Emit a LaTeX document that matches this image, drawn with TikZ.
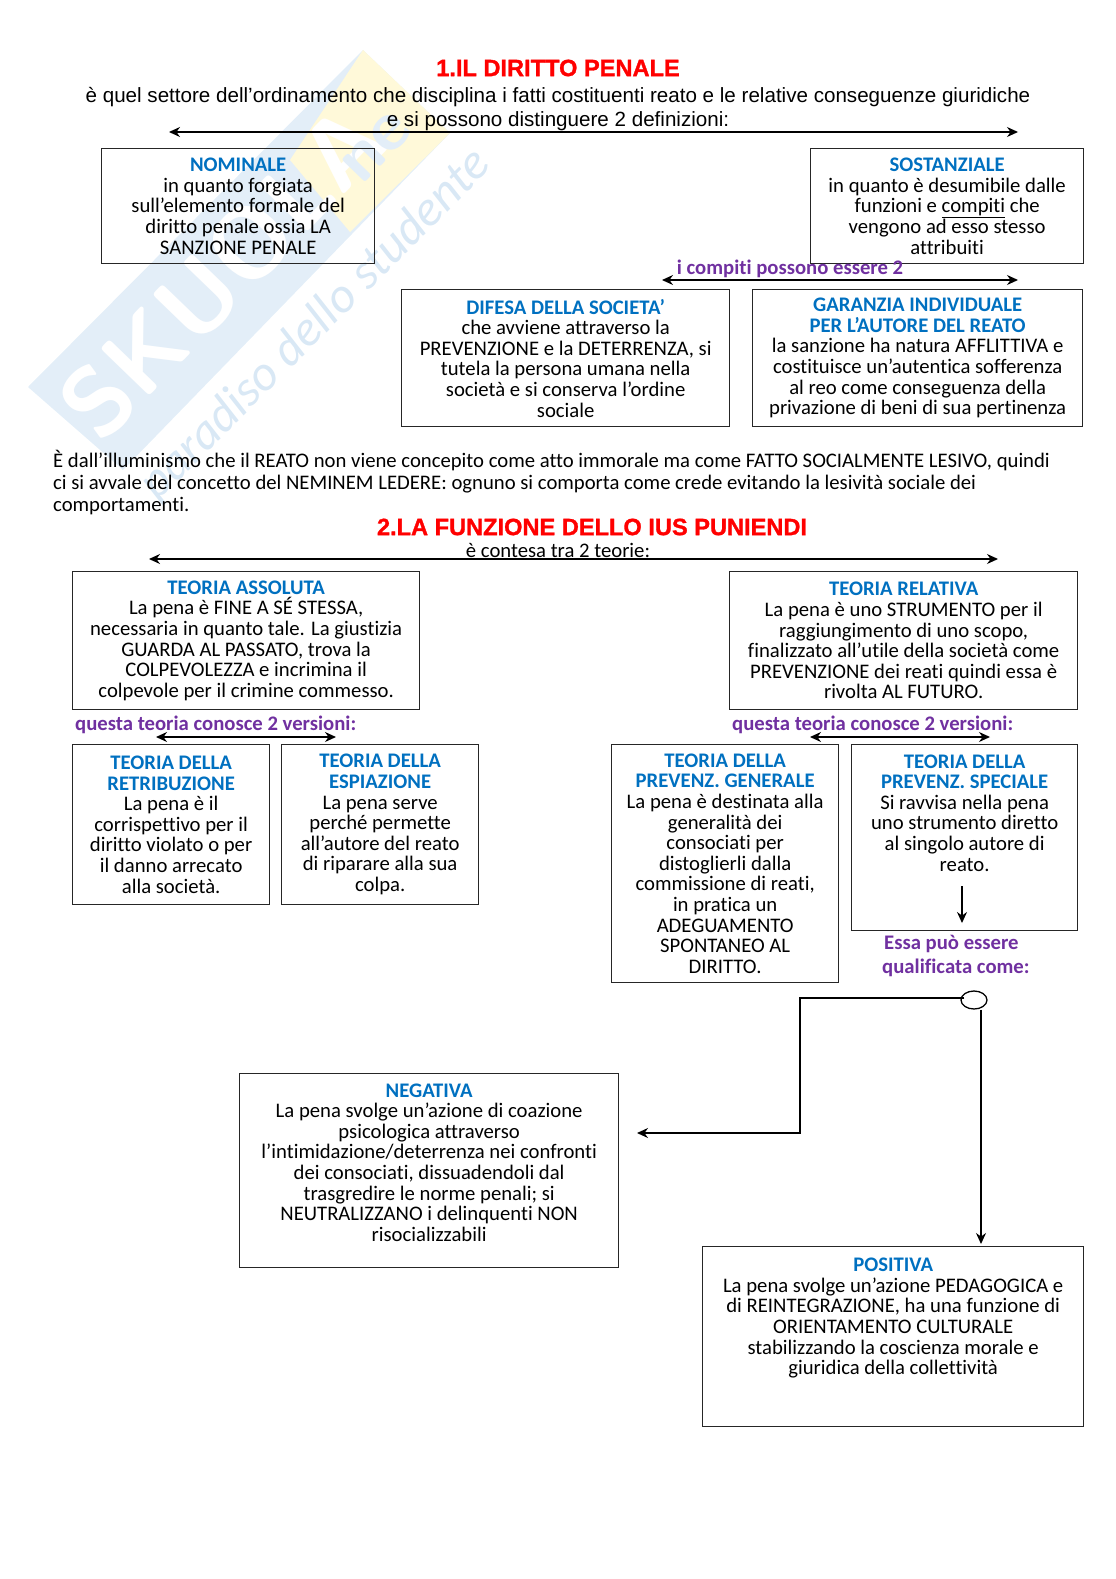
\documentclass[tikz,border=0pt]{standalone}
\usepackage{fontspec}
\setmainfont[Ligatures=NoCommon]{Carlito}
\newfontfamily\arialfont[BoldFeatures={FakeBold=1.2}]{Liberation Sans}
\usetikzlibrary{positioning,arrows.meta,shapes.geometric}
\definecolor{titlered}{HTML}{FF0000}
\definecolor{headblue}{HTML}{0070C0}
\definecolor{notepurple}{HTML}{7030A0}
\definecolor{markblue}{HTML}{E3EEF8}
\definecolor{markline}{HTML}{D9E8F5}
\definecolor{markyellow}{HTML}{FFF9D9}
\newcommand{\headtxt}[1]{{\bfseries\color{headblue}#1}}
\begin{document}
\begin{tikzpicture}[x=1pt, y=-1pt,
  box/.style={draw=black!85, line width=1.3pt, align=center, inner sep=0pt, anchor=north west,
    font=\fontsize{20.7}{20.6}\selectfont},
  title/.style={font=\arialfont\bfseries\fontsize{23.6}{24}\selectfont, text=titlered, inner sep=0pt},
  intro/.style={font=\arialfont\fontsize{20.6}{24}\selectfont, align=center, inner sep=0pt},
  plain/.style={font=\fontsize{20.7}{22}\selectfont, align=left, inner sep=0pt},
  note/.style={font=\bfseries\fontsize{20.7}{24}\selectfont, text=notepurple, inner sep=0pt, align=left},
  arr/.style={{Stealth[length=11pt,width=10pt]}-{Stealth[length=11pt,width=10pt]}, line width=1.4pt},
  sarr/.style={-{Stealth[length=11pt,width=10pt]}, line width=1.4pt}
]
\useasboundingbox (0,0) rectangle (1116,1579);
% watermark
\fill[markblue] (28,387) -- (363,50) -- (450,133) -- (123,470) -- cycle;
\fill[markyellow] (363,50) -- (450,133) -- (350,232) -- (290,160) -- cycle;
\node[rotate=46, text=white, font=\sffamily\bfseries\fontsize{98}{98}\selectfont, inner sep=0pt] (markname) at (222,272) {SKUOLA};
\node[rotate=46, text=markblue, font=\sffamily\bfseries\fontsize{70}{70}\selectfont, inner sep=0pt] (marknet) at (377,147) {ne};
\node[rotate=45, text=markline, font=\itshape\fontsize{50}{50}\selectfont, inner sep=0pt] (markslogan) at (316,325) {paradiso dello studente};
% section 1
\node[title] (title1) at (558,68) {1.IL DIRITTO PENALE};
\node[intro, below=11pt of title1] (intro1) {è quel settore dell’ordinamento che disciplina i fatti costituenti reato e le relative conseguenze giuridiche\\e si possono distinguere 2 definizioni:};
\coordinate (a1) at (169,132);
\coordinate (b1) at (1018,132);
\draw[arr] (a1) -- (b1);
\node[box, minimum width=273pt, minimum height=115pt] (nominale) at (101,148) {\headtxt{NOMINALE}\\in quanto forgiata\\sull’elemento formale del\\diritto penale ossia LA\\SANZIONE PENALE};
\node[box, minimum width=273pt, minimum height=115pt] (sostanziale) at (810,148) {\headtxt{SOSTANZIALE}\\in quanto è desumibile dalle\\funzioni e \underline{compiti} che\\vengono ad esso stesso\\attribuiti};
\coordinate (a2) at (662,280);
\coordinate (b2) at (1018,280);
\draw[arr] (a2) -- (b2);
\node[note] (compiti) at (790,269) {i compiti possono essere 2};
\node[box, minimum width=328pt, minimum height=137pt] (difesa) at (401,289) {\headtxt{DIFESA DELLA SOCIETA’}\\che avviene attraverso la\\PREVENZIONE e la DETERRENZA, si\\tutela la persona umana nella\\società e si conserva l’ordine\\sociale};
\node[box, minimum width=330pt, minimum height=137pt] (garanzia) at (752,289) {\headtxt{GARANZIA INDIVIDUALE}\\\headtxt{PER L’AUTORE DEL REATO}\\la sanzione ha natura AFFLITTIVA e\\costituisce un’autentica sofferenza\\al reo come conseguenza della\\privazione di beni di sua pertinenza};
\node[plain, anchor=north west] (illuminismo) at (53,450) {È dall’illuminismo che il REATO non viene concepito come atto immorale ma come FATTO SOCIALMENTE LESIVO, quindi\\ci si avvale del concetto del NEMINEM LEDERE: ognuno si comporta come crede evitando la lesività sociale dei\\comportamenti.};
% section 2
\node[title] (title2) at (592,527) {2.LA FUNZIONE DELLO IUS PUNIENDI};
\node[plain] (contesa) at (558,550) {è contesa tra 2 teorie:};
\coordinate (a3) at (149,559);
\coordinate (b3) at (998,559);
\draw[arr] (a3) -- (b3);
\node[box, minimum width=347pt, minimum height=138pt] (assoluta) at (72,571) {\headtxt{TEORIA ASSOLUTA}\\La pena è FINE A SÉ STESSA,\\necessaria in quanto tale. La giustizia\\GUARDA AL PASSATO, trova la\\COLPEVOLEZZA e incrimina il\\colpevole per il crimine commesso.};
\node[box, minimum width=348pt, minimum height=138pt] (relativa) at (729,571) {\headtxt{TEORIA RELATIVA}\\La pena è uno STRUMENTO per il\\raggiungimento di uno scopo,\\finalizzato all’utile della società come\\PREVENZIONE dei reati quindi essa è\\rivolta AL FUTURO.};
\node[note, anchor=west] (versioni1) at (75,725) {questa teoria conosce 2 versioni:};
\node[note, anchor=west] (versioni2) at (732,725) {questa teoria conosce 2 versioni:};
\coordinate (a4) at (156,737);
\coordinate (b4) at (336,737);
\draw[arr] (a4) -- (b4);
\coordinate (a5) at (810,737);
\coordinate (b5) at (990,737);
\draw[arr] (a5) -- (b5);
\node[box, minimum width=197pt, minimum height=160pt] (retribuzione) at (72,744) {\headtxt{TEORIA DELLA}\\\headtxt{RETRIBUZIONE}\\La pena è il\\corrispettivo per il\\diritto violato o per\\il danno arrecato\\alla società.};
\node[box, minimum width=197pt, minimum height=160pt] (espiazione) at (281,744) {\headtxt{TEORIA DELLA}\\\headtxt{ESPIAZIONE}\\La pena serve\\perché permette\\all’autore del reato\\di riparare alla sua\\colpa.};
\node[box, minimum width=227pt, minimum height=238pt] (generale) at (611,744) {\headtxt{TEORIA DELLA}\\\headtxt{PREVENZ. GENERALE}\\La pena è destinata alla\\generalità dei\\consociati per\\distoglierli dalla\\commissione di reati,\\in pratica un\\ADEGUAMENTO\\SPONTANEO AL\\DIRITTO.};
\node[box, minimum width=226pt, minimum height=186pt] (speciale) at (851,744) {\headtxt{TEORIA DELLA}\\\headtxt{PREVENZ. SPECIALE}\\Si ravvisa nella pena\\uno strumento diretto\\al singolo autore di\\reato.\\[29pt]\mbox{}};
\coordinate (a6) at (962,886);
\coordinate (b6) at (962,923);
\draw[sarr] (a6) -- (b6);
\node[note, anchor=west] (essa) at (884,956) {Essa può essere\\\hspace*{-2pt}qualificata come:};
\node[draw=black, line width=1.3pt, ellipse, minimum width=26pt, minimum height=18pt, inner sep=0pt] (snodo) at (974,1000) {};
\node[box, minimum width=379pt, minimum height=194pt] (negativa) at (239,1073) {\headtxt{NEGATIVA}\\La pena svolge un’azione di coazione\\psicologica attraverso\\l’intimidazione/deterrenza nei confronti\\dei consociati, dissuadendoli dal\\trasgredire le norme penali; si\\NEUTRALIZZANO i delinquenti NON\\risocializzabili\\[-4pt]\mbox{}};
\node[box, minimum width=381pt, minimum height=180pt] (positiva) at (702,1246) {\headtxt{POSITIVA}\\La pena svolge un’azione PEDAGOGICA e\\di REINTEGRAZIONE, ha una funzione di\\ORIENTAMENTO CULTURALE\\stabilizzando la coscienza morale e\\giuridica della collettività\\[20pt]\mbox{}};
\coordinate (elbow1) at (800,998);
\coordinate (elbow2) at (800,1133);
\coordinate (freccia) at (637,1133);
\draw[sarr] (snodo.north west |- elbow1) -- (elbow1) -- (elbow2) -- (freccia);
\coordinate (freccia2) at (981,1244);
\draw[sarr] (snodo.south -| freccia2) -- (freccia2);
\end{tikzpicture}
\end{document}
